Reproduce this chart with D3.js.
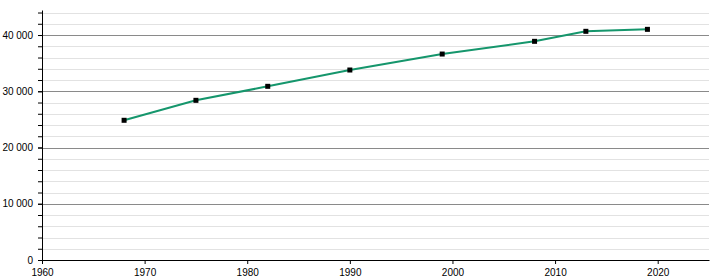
<!DOCTYPE html>
<html>
<head>
<meta charset="utf-8">
<script src="https://cdn.jsdelivr.net/npm/d3@7"></script>
<style>
  body { margin: 0; background: #fff; }
  svg { font-family: "Liberation Sans", Arial, sans-serif; }
</style>
</head>
<body>
<div id="chart"></div>
<script>
const years = [1968, 1975, 1982, 1990, 1999, 2008, 2013, 2019];
const population = [24840, 28390, 30880, 33780, 36620, 38880, 40660, 41010];
const xTicks = [1960, 1970, 1980, 1990, 2000, 2010, 2020];
const yMajorTicks = [0, 10000, 20000, 30000, 40000];
const yMinorTicks = d3.range(0, 44001, 2000);

const width = 720, height = 280;
const margin = { top: 10, right: 11, bottom: 20, left: 42 };

const svg = d3.select("#chart").append("svg")
    .attr("width", width)
    .attr("height", height);

const x = d3.scaleLinear()
    .domain([1960, 2025])
    .range([margin.left, width - margin.right]);

const y = d3.scaleLinear()
    .domain([0, 44450])
    .range([height - margin.bottom, margin.top]);

const fmt = d => d3.format(",")(d).replace(/,/g, " ");

// minor grid
svg.append("g")
    .selectAll("line")
    .data(yMinorTicks.filter(d => d % 10000 !== 0))
    .enter().append("line")
    .attr("x1", x(1960)).attr("x2", x(2025))
    .attr("y1", d => Math.round(y(d)) + 0.5).attr("y2", d => Math.round(y(d)) + 0.5)
    .attr("stroke", "#e2e2e2");

// major grid
svg.append("g")
    .selectAll("line")
    .data(yMajorTicks.filter(d => d > 0))
    .enter().append("line")
    .attr("x1", x(1960)).attr("x2", x(2025))
    .attr("y1", d => Math.round(y(d)) + 0.5).attr("y2", d => Math.round(y(d)) + 0.5)
    .attr("stroke", "#8a8a8a");

// y axis with minor ticks
const yAxisMinor = svg.append("g")
    .attr("transform", "translate(" + margin.left + ",0)")
    .call(d3.axisLeft(y).tickValues(yMinorTicks).tickSize(4).tickFormat(""));
yAxisMinor.select(".domain").remove();

const yAxis = svg.append("g")
    .attr("transform", "translate(" + margin.left + ",0)")
    .call(d3.axisLeft(y).tickValues(yMajorTicks).tickSize(4).tickFormat(fmt).tickSizeOuter(0));
yAxis.selectAll("text").attr("font-size", 10).attr("fill", "#000").attr("x", -9);
yAxis.select(".domain").attr("stroke", "#000");

// x axis
const xAxis = svg.append("g")
    .attr("transform", "translate(0," + (height - margin.bottom) + ")")
    .call(d3.axisBottom(x).tickValues(xTicks).tickFormat(d3.format("d")).tickSize(4).tickSizeOuter(0));
xAxis.selectAll("text").attr("font-size", 10).attr("fill", "#000").attr("y", 9);
xAxis.select(".domain").attr("stroke", "#000");

// line
const line = d3.line()
    .x((d, i) => x(years[i]))
    .y(d => y(d));

svg.append("path")
    .datum(population)
    .attr("d", line)
    .attr("fill", "none")
    .attr("stroke", "#15966c")
    .attr("stroke-width", 2);

// markers
svg.append("g")
    .selectAll("rect")
    .data(population)
    .enter().append("rect")
    .attr("x", (d, i) => x(years[i]) - 2.5)
    .attr("y", d => y(d) - 2.5)
    .attr("width", 5)
    .attr("height", 5)
    .attr("fill", "#000");
</script>
</body>
</html>
